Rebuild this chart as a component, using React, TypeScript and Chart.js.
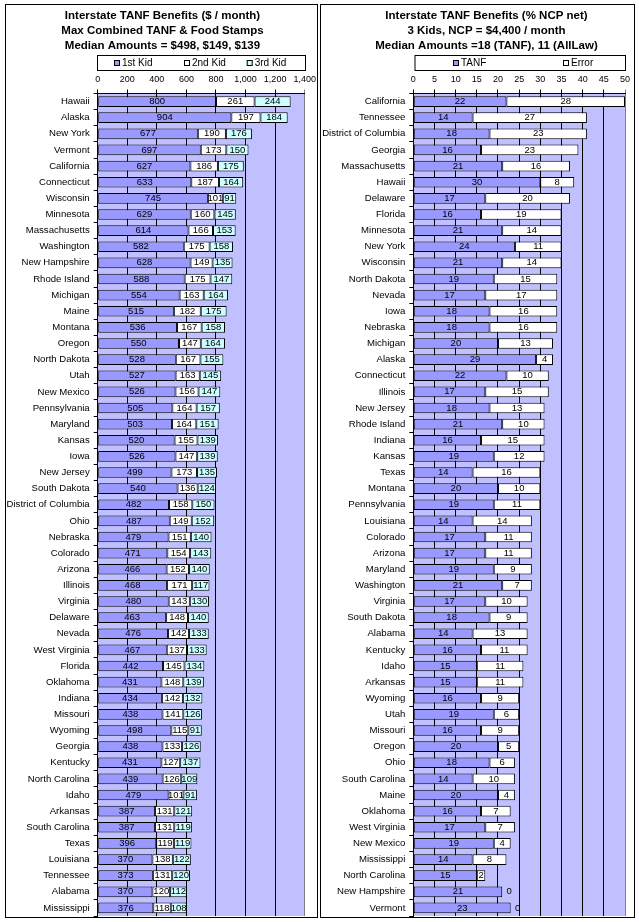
import React, { useEffect, useRef } from "react";
import { Chart, registerables } from "chart.js";

Chart.register(...registerables);

// ---------- Left chart data ----------
const benefitStates = [
  "Hawaii", "Alaska", "New York", "Vermont", "California", "Connecticut", "Wisconsin",
  "Minnesota", "Massachusetts", "Washington", "New Hampshire", "Rhode Island", "Michigan",
  "Maine", "Montana", "Oregon", "North Dakota", "Utah", "New Mexico", "Pennsylvania",
  "Maryland", "Kansas", "Iowa", "New Jersey", "South Dakota", "District of Columbia",
  "Ohio", "Nebraska", "Colorado", "Arizona", "Illinois", "Virginia", "Delaware", "Nevada",
  "West Virginia", "Florida", "Oklahoma", "Indiana", "Missouri", "Wyoming", "Georgia",
  "Kentucky", "North Carolina", "Idaho", "Arkansas", "South Carolina", "Texas",
  "Louisiana", "Tennessee", "Alabama", "Mississippi",
];
const firstKid = [
  800, 904, 677, 697, 627, 633, 745, 629, 614, 582, 628, 588, 554, 515, 536, 550, 528, 527,
  526, 505, 503, 520, 526, 499, 540, 482, 487, 479, 471, 466, 468, 480, 463, 476, 467, 442,
  431, 434, 438, 498, 438, 431, 439, 479, 387, 387, 396, 370, 373, 370, 376,
];
const secondKid = [
  261, 197, 190, 173, 186, 187, 101, 160, 166, 175, 149, 175, 163, 182, 167, 147, 167, 163,
  156, 164, 164, 155, 147, 173, 136, 158, 149, 151, 154, 152, 171, 143, 148, 142, 137, 145,
  148, 142, 141, 115, 133, 127, 126, 101, 131, 131, 119, 138, 131, 120, 118,
];
const thirdKid = [
  244, 184, 176, 150, 175, 164, 91, 145, 153, 158, 135, 147, 164, 175, 158, 164, 155, 145,
  147, 157, 151, 139, 139, 135, 124, 150, 152, 140, 143, 140, 117, 130, 140, 133, 133, 134,
  139, 132, 126, 91, 126, 137, 109, 91, 121, 119, 119, 122, 120, 112, 108,
];
const benefitTicks = [0, 200, 400, 600, 800, 1000, 1200, 1400];
const benefitSeries = ["1st Kid", "2nd Kid", "3rd Kid"];
const benefitTitle = [
  "Interstate TANF Benefits ($ / month)",
  "Max Combined TANF & Food Stamps",
  "Median Amounts = $498, $149, $139",
];

// ---------- Right chart data ----------
const ncpStates = [
  "California", "Tennessee", "District of Columbia", "Georgia", "Massachusetts", "Hawaii",
  "Delaware", "Florida", "Minnesota", "New York", "Wisconsin", "North Dakota", "Nevada",
  "Iowa", "Nebraska", "Michigan", "Alaska", "Connecticut", "Illinois", "New Jersey",
  "Rhode Island", "Indiana", "Kansas", "Texas", "Montana", "Pennsylvania", "Louisiana",
  "Colorado", "Arizona", "Maryland", "Washington", "Virginia", "South Dakota", "Alabama",
  "Kentucky", "Idaho", "Arkansas", "Wyoming", "Utah", "Missouri", "Oregon", "Ohio",
  "South Carolina", "Maine", "Oklahoma", "West Virginia", "New Mexico", "Mississippi",
  "North Carolina", "New Hampshire", "Vermont",
];
const tanfPct = [
  22, 14, 18, 16, 21, 30, 17, 16, 21, 24, 21, 19, 17, 18, 18, 20, 29, 22, 17, 18, 21, 16,
  19, 14, 20, 19, 14, 17, 17, 19, 21, 17, 18, 14, 16, 15, 15, 16, 19, 16, 20, 18, 14, 20,
  16, 17, 19, 14, 15, 21, 23,
];
const errorPct = [
  28, 27, 23, 23, 16, 8, 20, 19, 14, 11, 14, 15, 17, 16, 16, 13, 4, 10, 15, 13, 10, 15, 12,
  16, 10, 11, 14, 11, 11, 9, 7, 10, 9, 13, 11, 11, 11, 9, 6, 9, 5, 6, 10, 4, 7, 7, 4, 8, 2,
  0, 0,
];
const ncpTicks = [0, 5, 10, 15, 20, 25, 30, 35, 40, 45, 50];
const ncpSeries = ["TANF", "Error"];
const ncpTitle = [
  "Interstate TANF Benefits (% NCP net)",
  "3 Kids, NCP = $4,400 / month",
  "Median Amounts =18 (TANF), 11 (AllLaw)",
];

const FONT = '"Liberation Sans", Arial, sans-serif';

const panelPlugin = {
  id: "panel",
  beforeDraw(chart: any, _args: any, opts: any) {
    const { ctx, chartArea: a, width, height } = chart;
    ctx.save();
    ctx.fillStyle = "#ffffff";
    ctx.fillRect(0, 0, width, height);
    ctx.fillStyle = opts.plotBg;
    ctx.fillRect(a.left, a.top, a.right - a.left, a.bottom - a.top);
    ctx.strokeStyle = "#000";
    ctx.lineWidth = 1;
    ctx.strokeRect(0.5, 0.5, width - 1, height - 1);
    // titles
    ctx.fillStyle = "#000";
    ctx.font = `bold 11.5px ${FONT}`;
    ctx.textAlign = "center";
    ctx.textBaseline = "middle";
    opts.title.forEach((t: string, i: number) => ctx.fillText(t, opts.titleX, 11.5 + i * 15));
    // legend
    const lb = opts.legendBox;
    ctx.strokeRect(lb.x + 0.5, lb.y + 0.5, lb.w, lb.h);
    ctx.font = `10px ${FONT}`;
    ctx.textAlign = "left";
    const cy = lb.y + lb.h / 2 + 0.5;
    chart.data.datasets.forEach((ds: any, i: number) => {
      const mx = opts.legendX[i];
      ctx.fillStyle = ds.backgroundColor;
      ctx.fillRect(mx, cy - 3, 6, 6);
      ctx.strokeStyle = "#000";
      ctx.strokeRect(mx + 0.5, cy - 2.5, 5, 5);
      ctx.fillStyle = "#000";
      ctx.fillText(ds.label, mx + 8, cy);
    });
    ctx.restore();
  },
  afterDatasetsDraw(chart: any) {
    const { ctx } = chart;
    ctx.save();
    ctx.fillStyle = "#000";
    ctx.font = `9.5px ${FONT}`;
    ctx.textAlign = "center";
    ctx.textBaseline = "middle";
    chart.data.datasets.forEach((ds: any, di: number) => {
      const meta = chart.getDatasetMeta(di);
      meta.data.forEach((el: any, i: number) => {
        const v = ds.data[i];
        const { x, base, y } = el.getProps(["x", "base", "y"], true);
        const cx = v === 0 ? x + 7 : (x + base) / 2;
        ctx.fillText(String(v), cx, y);
      });
    });
    ctx.restore();
  },
};

type PanelProps = {
  left: number;
  top: number;
  width: number;
  height: number;
  labels: string[];
  series: { label: string; data: number[]; color: string }[];
  ticks: number[];
  title: string[];
  titleX: number;
  axisWidth: number;
  padRight: number;
  legendBox: { x: number; y: number; w: number; h: number };
  legendX: number[];
};

function Panel(p: PanelProps) {
  const ref = useRef<HTMLCanvasElement | null>(null);
  useEffect(() => {
    if (!ref.current) return;
    const min = p.ticks[0];
    const max = p.ticks[p.ticks.length - 1];
    const step = p.ticks[1] - p.ticks[0];
    const chart = new Chart(ref.current, {
      type: "bar",
      data: {
        labels: p.labels,
        datasets: p.series.map((s) => ({
          label: s.label,
          data: s.data,
          backgroundColor: s.color,
          borderColor: "#000",
          borderWidth: 1,
          borderSkipped: false,
          barPercentage: 0.66,
          categoryPercentage: 1,
        })),
      },
      plugins: [panelPlugin as any],
      options: {
        indexAxis: "y",
        animation: false,
        responsive: false,
        devicePixelRatio: 1,
        events: [],
        layout: { padding: { left: 0, right: p.padRight, top: 59.5, bottom: 2 } },
        plugins: {
          legend: { display: false },
          title: { display: false },
          tooltip: { enabled: false },
          panel: {
            plotBg: "#C0C0FF",
            title: p.title,
            titleX: p.titleX,
            legendBox: p.legendBox,
            legendX: p.legendX,
          },
        } as any,
        scales: {
          x: {
            position: "top",
            stacked: true,
            min,
            max,
            afterBuildTicks: (scale: any) => {
              scale.ticks = p.ticks.map((v) => ({ value: v }));
            },
            afterFit: (scale: any) => {
              scale.height = 30;
              scale.paddingLeft = 0;
              scale.paddingRight = 0;
            },
            ticks: {
              stepSize: step,
              autoSkip: false,
              maxRotation: 0,
              padding: 5,
              color: "#000",
              font: { family: FONT, size: 9 },
              callback: (v: any) => Number(v).toLocaleString("en-US"),
            },
            grid: {
              color: (c: any) => (c.tick && c.tick.value === max ? "#808080" : "#000"),
              tickLength: 4,
              lineWidth: 1,
            },
            border: { display: true, color: "#000" },
          },
          y: {
            stacked: true,
            afterFit: (scale: any) => {
              scale.width = p.axisWidth;
              scale.paddingTop = 0;
              scale.paddingBottom = 0;
            },
            ticks: {
              autoSkip: false,
              padding: 4,
              color: "#000",
              font: { family: FONT, size: 9.6 },
            },
            grid: {
              offset: true,
              drawOnChartArea: false,
              drawTicks: true,
              tickLength: 4,
              color: "#000",
            },
            border: { display: true, color: "#000" },
          },
        },
      },
    });
    return () => chart.destroy();
  }, []);
  return (
    <canvas
      ref={ref}
      width={p.width}
      height={p.height}
      style={{ position: "absolute", left: p.left, top: p.top, width: p.width, height: p.height }}
    />
  );
}

export default function App() {
  return (
    <div style={{ position: "absolute", left: 0, top: 0, width: 639, height: 922, background: "#fff" }}>
      <Panel
        left={5}
        top={4}
        width={313}
        height={914}
        labels={benefitStates}
        series={[
          { label: benefitSeries[0], data: firstKid, color: "#9999FF" },
          { label: benefitSeries[1], data: secondKid, color: "#FFFFFF" },
          { label: benefitSeries[2], data: thirdKid, color: "#CCFFFF" },
        ]}
        ticks={benefitTicks}
        title={benefitTitle}
        titleX={157.5}
        axisWidth={92.7}
        padRight={13.3}
        legendBox={{ x: 92, y: 51, w: 208, h: 15 }}
        legendX={[109, 179, 241.7]}
      />
      <Panel
        left={320}
        top={4}
        width={315}
        height={914}
        labels={ncpStates}
        series={[
          { label: ncpSeries[0], data: tanfPct, color: "#9999FF" },
          { label: ncpSeries[1], data: errorPct, color: "#FFFFFF" },
        ]}
        ticks={ncpTicks}
        title={ncpTitle}
        titleX={166.5}
        axisWidth={93.3}
        padRight={10}
        legendBox={{ x: 94.5, y: 51, w: 210.5, h: 15 }}
        legendX={[133, 243]}
      />
    </div>
  );
}
